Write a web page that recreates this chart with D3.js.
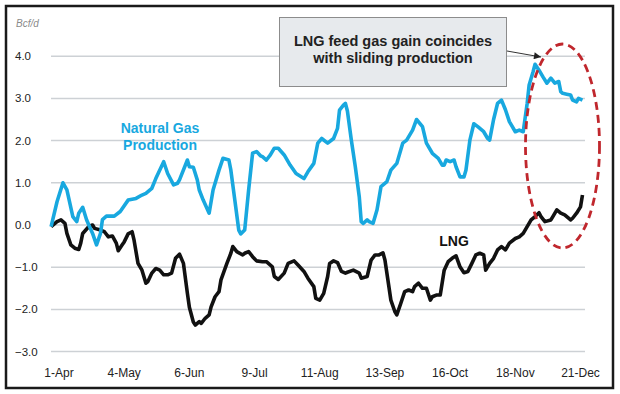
<!DOCTYPE html>
<html>
<head>
<meta charset="utf-8">
<script src="https://cdn.jsdelivr.net/npm/d3@7"></script>
<style>
  body { margin: 0; background: #fff; }
  text { font-family: "Liberation Sans", Arial, Helvetica, sans-serif; }
</style>
</head>
<body>
<div id="main"></div>
<script>
// x categories: days counted from 1-Apr
var tickDays = [0, 33, 66, 99, 132, 165, 198, 231, 264];
var tickLabels = ["1-Apr", "4-May", "6-Jun", "9-Jul", "11-Aug", "13-Sep", "16-Oct", "18-Nov", "21-Dec"];
var yTicks = [4, 3, 2, 1, 0, -1, -2, -3];

// Natural gas production, change vs year ago (Bcf/d)
var prodDay = [-4, -1, 2, 4, 7, 9, 10, 12, 14, 17, 19, 21, 22, 24, 28, 31, 35, 39, 42, 44, 47, 49, 53, 55, 58, 60, 61, 65, 66, 68, 70,
  71, 73, 76, 78, 81, 83, 86, 87, 89, 91, 92, 94, 96, 98, 100, 102, 103, 105, 107, 109, 111, 114, 117, 120, 124, 126, 129, 131, 133, 136, 139, 141, 142, 144, 145, 146, 148, 150, 152,
  153, 154, 156, 157, 159, 161, 163, 166, 168, 171, 174, 176, 179, 181, 184, 186, 189, 192, 194, 195, 196, 198, 200, 201, 203, 205, 206, 208, 210, 212, 215, 217, 218, 220, 222, 224,
  226, 228, 231, 233, 235, 237, 238, 240, 241, 243, 245, 247, 249, 251, 253, 254, 255, 257, 259, 260, 262, 263, 265];
var prodVal = [-0.04, 0.55, 1.0, 0.83, 0.2, 0.08, 0.28, 0.42, 0.12, -0.2, -0.47, -0.2, 0.13, 0.21, 0.21, 0.32, 0.59, 0.63, 0.71, 0.75, 0.87, 1.1, 1.5, 1.22, 0.95, 0.99, 1.07, 1.54, 1.38, 1.37, 1.07,
  0.83, 0.59, 0.28, 0.83, 1.3, 1.58, 1.54, 1.3, 0.59, -0.12, -0.21, -0.12, 0.83, 1.7, 1.74, 1.64, 1.62, 1.54, 1.66, 1.82, 1.82, 1.66, 1.42, 1.22, 1.1, 1.26, 1.46, 1.94, 2.05, 1.94, 2.05, 2.29, 2.72, 2.84, 2.88, 2.7, 2.01, 1.38, 0.67,
  0.08, 0.04, 0.12, 0.08, 0.04, 0.36, 0.91, 1.03, 1.3, 1.46, 1.94, 2.01, 2.25, 2.5, 2.33, 1.94, 1.7, 1.58, 1.42, 1.42, 1.54, 1.5, 1.54, 1.38, 1.14, 1.14, 1.3, 2.01, 2.4, 2.33, 2.21, 2.05, 2.01, 2.5, 2.88, 2.96,
  2.73, 2.45, 2.21, 2.25, 2.21, 2.88, 3.32, 3.63, 3.81, 3.67, 3.51, 3.36, 3.48, 3.36, 3.4, 3.16, 3.12, 3.1, 3.08, 2.96, 2.92, 3.0, 2.96];

// LNG feed gas, change vs year ago (Bcf/d)
var lngDay = [-4, -1, 1, 3, 4, 6, 8, 10, 11, 12, 15, 17, 18, 21, 23, 25, 27, 29, 30, 32, 33, 35, 37, 38, 40, 42, 44, 45, 47, 49, 51, 53, 55, 57, 59, 61, 63, 65, 66,
  68, 69, 71, 72, 74, 76, 77, 79, 81, 82, 85, 87, 88, 90, 93, 94, 96, 98, 100, 103, 105, 108, 109, 111, 114, 116, 119, 121, 124, 126, 129, 130, 132, 134, 136, 137, 139, 141, 143, 145,
  146, 149, 152, 153, 156, 158, 160, 162, 164, 165, 167, 168, 170, 171, 173, 175, 177, 179, 180, 182, 184, 186, 188, 189, 191, 193, 195, 197, 199, 201, 203, 205, 207, 209, 211, 213, 215, 216,
  218, 220, 222, 224, 226, 228, 231, 233, 235, 237, 239, 241, 243, 244, 246, 249, 250, 252, 254, 256, 259, 260, 262, 264, 265];
var lngVal = [-0.04, 0.08, 0.12, 0.04, -0.2, -0.47, -0.55, -0.58, -0.43, -0.2, -0.04, 0.0, -0.08, -0.12, -0.16, -0.28, -0.26, -0.43, -0.61, -0.47, -0.4, -0.21, -0.16, -0.36, -0.91, -1.07, -1.38, -1.34, -1.14, -1.03, -1.07, -1.18, -1.18, -1.14, -0.79, -0.69, -0.91, -1.62, -1.95,
  -2.3, -2.37, -2.29, -2.33, -2.21, -2.13, -1.94, -1.7, -1.58, -1.3, -0.91, -0.67, -0.51, -0.63, -0.71, -0.67, -0.63, -0.75, -0.85, -0.87, -0.87, -0.99, -1.22, -1.29, -1.14, -0.91, -0.85, -0.95, -1.1, -1.26, -1.46, -1.74, -1.78, -1.62, -1.22, -0.91, -0.85, -0.89, -1.1, -1.14,
  -1.12, -1.07, -1.14, -1.26, -1.22, -0.83, -0.71, -0.71, -0.66, -0.83, -1.46, -1.78, -2.05, -2.13, -1.86, -1.58, -1.54, -1.58, -1.46, -1.38, -1.5, -1.5, -1.78, -1.7, -1.66, -1.66, -1.07, -0.87, -0.79, -0.73, -0.99, -1.13, -1.1, -0.91, -0.71, -0.67, -0.71, -1.07,
  -0.91, -0.79, -0.59, -0.51, -0.59, -0.43, -0.32, -0.28, -0.2, -0.04, 0.12, 0.2, 0.29, 0.2, 0.08, 0.12, 0.2, 0.36, 0.28, 0.24, 0.12, 0.16, 0.28, 0.43, 0.71];

var width = 620, height = 394;
var start = new Date(2017, 3, 1);
function dayToDate(d) { return d3.timeDay.offset(start, d); }

var svg = d3.select("#main").append("svg")
    .attr("width", width)
    .attr("height", height);

var x = d3.scaleTime()
    .domain([dayToDate(0), dayToDate(264)])
    .range([59, 580.5]);
var y = d3.scaleLinear()
    .domain([-3, 4])
    .range([351.6, 56.2]);

// frame
svg.append("rect")
    .attr("x", 6).attr("y", 6)
    .attr("width", 607).attr("height", 382)
    .attr("fill", "#fff")
    .attr("stroke", "#1a1a1a")
    .attr("stroke-width", 2.5);

// grid + y labels
svg.selectAll(".grid").data(yTicks).enter().append("line")
    .attr("class", "grid")
    .attr("x1", 51).attr("x2", 585)
    .attr("y1", function(d) { return y(d); })
    .attr("y2", function(d) { return y(d); })
    .attr("stroke", "#cdd1d5")
    .attr("stroke-width", 1.5);

svg.selectAll(".ylab").data(yTicks).enter().append("text")
    .attr("class", "ylab")
    .attr("x", 15)
    .attr("y", function(d) { return y(d) + 4; })
    .attr("font-size", 11.5)
    .attr("fill", "#222")
    .text(function(d) { return d3.format(".1f")(d); });

svg.append("text")
    .attr("x", 16).attr("y", 27)
    .attr("font-size", 10)
    .attr("font-style", "italic")
    .attr("fill", "#8a8a8a")
    .text("Bcf/d");

// x labels
svg.selectAll(".xlab").data(tickDays).enter().append("text")
    .attr("class", "xlab")
    .attr("x", function(d) { return x(dayToDate(d)); })
    .attr("y", 377)
    .attr("text-anchor", "middle")
    .attr("font-size", 12)
    .attr("fill", "#222")
    .text(function(d, i) { return tickLabels[i]; });

var line = d3.line()
    .x(function(d) { return x(dayToDate(d[0])); })
    .y(function(d) { return y(d[1]); });

svg.append("path")
    .datum(d3.zip(lngDay, lngVal))
    .attr("d", line)
    .attr("fill", "none")
    .attr("stroke", "#111")
    .attr("stroke-width", 3.6)
    .attr("stroke-linejoin", "round");

svg.append("path")
    .datum(d3.zip(prodDay, prodVal))
    .attr("d", line)
    .attr("fill", "none")
    .attr("stroke", "#18a8df")
    .attr("stroke-width", 3.6)
    .attr("stroke-linejoin", "round");

// series labels
var nglab = svg.append("text")
    .attr("text-anchor", "middle")
    .attr("font-size", 14)
    .attr("font-weight", "bold")
    .attr("fill", "#18a8df");
nglab.append("tspan").attr("x", 160).attr("y", 133).text("Natural Gas");
nglab.append("tspan").attr("x", 160).attr("y", 150).text("Production");

svg.append("text")
    .attr("x", 454).attr("y", 246)
    .attr("text-anchor", "middle")
    .attr("font-size", 14)
    .attr("font-weight", "bold")
    .attr("fill", "#111")
    .text("LNG");

// annotation
svg.append("defs").append("marker")
    .attr("id", "arrow")
    .attr("viewBox", "0 0 10 10")
    .attr("refX", 10).attr("refY", 5)
    .attr("markerWidth", 10).attr("markerHeight", 7)
    .attr("markerUnits", "userSpaceOnUse")
    .attr("orient", "auto")
    .append("path")
    .attr("d", "M0,0L10,5L0,10z")
    .attr("fill", "#222");

svg.append("line")
    .attr("x1", 507).attr("y1", 51)
    .attr("x2", 541).attr("y2", 57)
    .attr("stroke", "#333")
    .attr("stroke-width", 1)
    .attr("marker-end", "url(#arrow)");

svg.append("rect")
    .attr("x", 279.5).attr("y", 17.5)
    .attr("width", 227).attr("height", 69)
    .attr("fill", "#e7eaed")
    .attr("stroke", "#8c8c8c")
    .attr("stroke-width", 1);

var note = svg.append("text")
    .attr("text-anchor", "middle")
    .attr("font-size", 14.5)
    .attr("font-weight", "bold")
    .attr("fill", "#222");
note.append("tspan").attr("x", 393).attr("y", 46).text("LNG feed gas gain coincides");
note.append("tspan").attr("x", 393).attr("y", 63).text("with sliding production");

svg.append("ellipse")
    .attr("cx", 562.5).attr("cy", 146)
    .attr("rx", 37).attr("ry", 102)
    .attr("fill", "none")
    .attr("stroke", "#c0272d")
    .attr("stroke-width", 2.8)
    .attr("stroke-dasharray", "8,5");
</script>
</body>
</html>
